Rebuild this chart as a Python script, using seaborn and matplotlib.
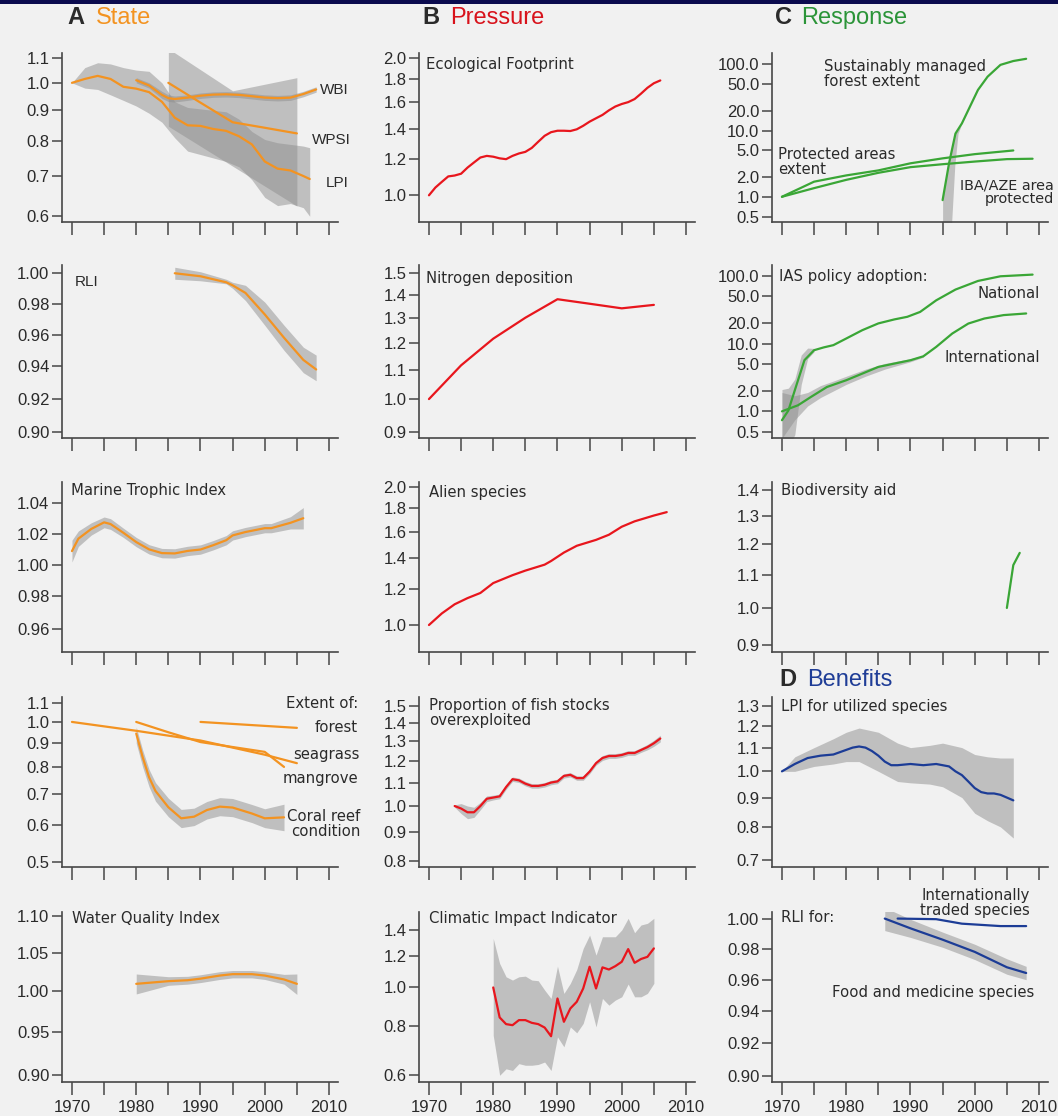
import matplotlib
matplotlib.use("Agg")
import matplotlib.pyplot as plt
import seaborn as sns
from matplotlib.ticker import FixedLocator, FixedFormatter, NullLocator
from matplotlib.patches import Rectangle

# ---------------- data ----------------
# A: State
lpi_years = [1970, 1972, 1974, 1976, 1978, 1980, 1982, 1984, 1986, 1988, 1990, 1992, 1994, 1996, 1998, 2000, 2002, 2004, 2006, 2007]
lpi_vals = [1.00, 1.015, 1.027, 1.015, 0.985, 0.978, 0.965, 0.93, 0.875, 0.85, 0.848, 0.838, 0.832, 0.815, 0.79, 0.74, 0.72, 0.715, 0.70, 0.692]
lpi_hi = [1.00, 1.06, 1.08, 1.075, 1.06, 1.05, 1.045, 1.0, 0.93, 0.91, 0.905, 0.90, 0.895, 0.87, 0.83, 0.805, 0.795, 0.79, 0.785, 0.78]
lpi_lo = [1.00, 0.98, 0.975, 0.955, 0.935, 0.915, 0.89, 0.86, 0.81, 0.77, 0.76, 0.75, 0.74, 0.725, 0.69, 0.645, 0.625, 0.63, 0.62, 0.60]

wbi_years = [1980, 1982, 1984, 1985, 1986, 1988, 1990, 1992, 1994, 1996, 1998, 2000, 2002, 2004, 2006, 2008]
wbi_vals = [1.01, 0.99, 0.955, 0.943, 0.94, 0.945, 0.952, 0.956, 0.957, 0.955, 0.95, 0.945, 0.943, 0.945, 0.958, 0.975]
wbi_hi = [1.02, 1.0, 0.968, 0.955, 0.951, 0.955, 0.962, 0.966, 0.967, 0.965, 0.96, 0.955, 0.953, 0.955, 0.968, 0.985]
wbi_lo = [1.0, 0.98, 0.942, 0.931, 0.929, 0.935, 0.942, 0.946, 0.947, 0.945, 0.94, 0.935, 0.933, 0.935, 0.948, 0.965]

wpsi_years = [1985, 1990, 1995, 2000, 2005]
wpsi_vals = [1.0, 0.927, 0.86, 0.842, 0.824]
wpsi_band_years = [1985, 1995, 2005]
wpsi_hi = [1.14, 0.97, 1.02]
wpsi_lo = [0.847, 0.727, 0.624]

rli_years = [1986, 1990, 1994, 1995, 1997, 2000, 2003, 2006, 2008]
rli_vals = [1.0, 0.998, 0.994, 0.992, 0.987, 0.973, 0.958, 0.944, 0.938]
rli_hi = [1.004, 1.001, 0.996, 0.994, 0.992, 0.981, 0.966, 0.952, 0.947]
rli_lo = [0.996, 0.995, 0.993, 0.99, 0.982, 0.966, 0.95, 0.936, 0.931]

mti_years = [1970, 1971, 1973, 1975, 1976, 1978, 1980, 1982, 1984, 1986, 1988, 1990, 1992, 1994, 1995, 1997, 2000, 2001, 2004, 2006]
mti_vals = [1.0087, 1.0167, 1.023, 1.0273, 1.0262, 1.0205, 1.0145, 1.0098, 1.0074, 1.0072, 1.0088, 1.0097, 1.0125, 1.0157, 1.0188, 1.021, 1.0235, 1.0235, 1.027, 1.030]
mti_hw = [0.007, 0.005, 0.004, 0.0035, 0.0035, 0.003, 0.003, 0.003, 0.003, 0.003, 0.003, 0.003, 0.003, 0.003, 0.003, 0.003, 0.003, 0.003, 0.004, 0.007]

forest_years = [1990, 2005]
forest_vals = [1.0, 0.971]
seagrass_years = [1970, 1980, 1990, 2000, 2005]
seagrass_vals = [1.0, 0.957, 0.912, 0.85, 0.815]
mangrove_years = [1980, 1985, 1990, 1995, 2000, 2003]
mangrove_vals = [1.0, 0.95, 0.905, 0.883, 0.862, 0.80]
coral_years = [1980, 1981, 1982, 1983, 1985, 1987, 1989, 1991, 1993, 1995, 1998, 2000, 2003]
coral_vals = [0.944, 0.84, 0.76, 0.71, 0.655, 0.62, 0.625, 0.646, 0.657, 0.654, 0.635, 0.62, 0.623]
coral_hi = [0.975, 0.87, 0.79, 0.74, 0.685, 0.648, 0.652, 0.674, 0.687, 0.684, 0.664, 0.65, 0.665]
coral_lo = [0.90, 0.80, 0.725, 0.675, 0.625, 0.592, 0.598, 0.618, 0.628, 0.625, 0.607, 0.592, 0.583]

wqi_years = [1980, 1985, 1988, 1990, 1993, 1995, 1998, 2000, 2003, 2005]
wqi_vals = [1.0094, 1.0128, 1.014, 1.016, 1.020, 1.0218, 1.0218, 1.020, 1.015, 1.0094]
wqi_hi = [1.022, 1.0185, 1.019, 1.021, 1.025, 1.0265, 1.0265, 1.025, 1.0215, 1.022]
wqi_lo = [0.9966, 1.0075, 1.009, 1.011, 1.015, 1.017, 1.017, 1.015, 1.009, 0.996]

# B: Pressure
ef_years = list(range(1970, 2007))
ef_vals = [1.00, 1.04, 1.07, 1.10, 1.105, 1.115, 1.15, 1.18, 1.21, 1.22, 1.215, 1.205, 1.20, 1.22, 1.235,
           1.245, 1.27, 1.31, 1.35, 1.375, 1.385, 1.385, 1.383, 1.395, 1.42, 1.45, 1.475, 1.50, 1.535,
           1.565, 1.585, 1.60, 1.625, 1.67, 1.72, 1.76, 1.785]

nit_years = [1970, 1975, 1980, 1985, 1990, 1995, 2000, 2005]
nit_vals = [1.0, 1.115, 1.215, 1.30, 1.38, 1.36, 1.34, 1.355]

alien_years = [1970, 1972, 1974, 1976, 1978, 1980, 1983, 1985, 1988, 1989, 1991, 1993, 1996, 1998, 2000, 2002, 2005, 2007]
alien_vals = [1.0, 1.06, 1.11, 1.145, 1.175, 1.235, 1.285, 1.315, 1.355, 1.38, 1.44, 1.49, 1.535, 1.575, 1.64, 1.685, 1.735, 1.765]

fish_years = list(range(1974, 2007))
fish_vals = [1.00, 0.99, 0.975, 0.975, 1.00, 1.03, 1.035, 1.04, 1.08, 1.115, 1.11, 1.095, 1.085, 1.085,
             1.09, 1.10, 1.105, 1.13, 1.135, 1.12, 1.12, 1.15, 1.19, 1.215, 1.225, 1.225, 1.23, 1.24,
             1.24, 1.255, 1.27, 1.29, 1.315]
fish_hw = [0.005, 0.02, 0.025, 0.02, 0.015, 0.012, 0.01, 0.01, 0.01, 0.01, 0.01, 0.01, 0.01, 0.01,
           0.01, 0.01, 0.01, 0.01, 0.01, 0.01, 0.01, 0.01, 0.01, 0.012, 0.012, 0.012, 0.012, 0.012,
           0.012, 0.012, 0.014, 0.016, 0.018]

cii_years = list(range(1980, 2006))
cii_vals = [1.0, 0.84, 0.808, 0.803, 0.827, 0.827, 0.814, 0.808, 0.792, 0.753, 0.938, 0.819, 0.885,
            0.92, 0.994, 1.128, 0.994, 1.124, 1.11, 1.132, 1.161, 1.25, 1.154, 1.18, 1.195, 1.255]
cii_hi = [1.33, 1.15, 1.064, 1.044, 1.064, 1.068, 1.044, 1.04, 0.985, 0.938, 1.132, 0.966, 1.024,
          1.11, 1.255, 1.356, 1.207, 1.343, 1.343, 1.343, 1.397, 1.495, 1.375, 1.438, 1.452, 1.495]
cii_lo = [0.757, 0.60, 0.623, 0.617, 0.642, 0.636, 0.636, 0.639, 0.648, 0.617, 0.75, 0.708, 0.795,
          0.768, 0.811, 0.92, 0.795, 0.938, 0.902, 0.929, 0.947, 1.02, 0.947, 0.947, 0.966, 1.024]

# C: Response
pa_years = [1970, 1975, 1980, 1985, 1990, 1995, 2000, 2006]
pa_vals = [1.0, 1.69, 2.1, 2.5, 3.2, 3.8, 4.4, 5.0]
iba_years = [1970, 1975, 1980, 1985, 1990, 1995, 2000, 2005, 2009]
iba_vals = [1.0, 1.35, 1.8, 2.3, 2.8, 3.1, 3.4, 3.7, 3.75]
smf_years = [1995, 1996, 1997, 1998, 1999, 2000.5, 2002, 2004, 2006, 2008]
smf_vals = [0.89, 3.2, 9.0, 12.8, 20.4, 41.0, 65.0, 98.0, 112.0, 121.0]
smf_band_y = [0.4, 0.9, 3.0, 9.0, 12.0]
smf_band_left = [1995.0, 1995.0, 1995.8, 1996.9, 1997.9]
smf_band_right = [1996.4, 1996.6, 1996.9, 1997.4, 1997.9]

nat_years = [1970, 1971, 1972, 1973.5, 1975, 1976.5, 1978, 1980, 1982.5, 1985, 1987.5, 1989.5, 1991.5, 1994, 1997, 2000.5, 2004, 2009]
nat_vals = [0.74, 1.03, 2.05, 5.7, 8.0, 8.8, 9.5, 11.9, 15.8, 19.9, 22.8, 24.9, 29.4, 43.6, 62.9, 84.3, 98.8, 104.6]
nat_band_years = [1970, 1971, 1972, 1973, 1974, 1975]
nat_band_lo = [0.3, 0.3, 0.45, 2.5, 6.0, 7.6]
nat_band_hi = [2.1, 2.2, 3.0, 6.8, 8.6, 8.5]

int_years = [1970, 1972.5, 1974.5, 1977, 1980, 1982.5, 1985, 1987.5, 1990, 1992, 1994, 1996.5, 1999, 2001.5, 2004.5, 2008]
int_vals = [1.0, 1.23, 1.63, 2.29, 2.88, 3.61, 4.53, 5.08, 5.69, 6.5, 8.95, 14.1, 19.8, 23.5, 26.4, 27.9]
int_band_years = [1970, 1972, 1974, 1976, 1978, 1980, 1983, 1986, 1990, 1992]
int_band_lo = [0.4, 0.75, 1.2, 1.6, 2.0, 2.5, 3.3, 4.2, 5.4, 6.3]
int_band_hi = [1.9, 1.7, 1.9, 2.4, 2.8, 3.3, 4.2, 5.1, 6.0, 6.7]

aid_years = [2005, 2006, 2007]
aid_vals = [1.0, 1.13, 1.17]

# D: Benefits
lpiu_years = [1970, 1972, 1974, 1976, 1978, 1980, 1981, 1982, 1983, 1984, 1985, 1986, 1987, 1988, 1990, 1992,
              1994, 1995, 1996, 1997, 1998, 1999, 2000, 2001, 2002, 2003, 2004, 2005, 2006]
lpiu_vals = [1.0, 1.03, 1.055, 1.065, 1.07, 1.09, 1.10, 1.105, 1.10, 1.085, 1.065, 1.04, 1.025, 1.025, 1.03,
             1.025, 1.03, 1.025, 1.02, 1.0, 0.985, 0.96, 0.935, 0.92, 0.915, 0.915, 0.91, 0.90, 0.89]
lpiu_band_years = [1970, 1972, 1975, 1978, 1980, 1982, 1985, 1988, 1990, 1993, 1995, 1998, 2000, 2002, 2004, 2006]
lpiu_lo = [1.0, 1.0, 1.02, 1.03, 1.04, 1.04, 1.0, 0.96, 0.955, 0.95, 0.94, 0.9, 0.845, 0.82, 0.80, 0.765]
lpiu_hi = [1.0, 1.06, 1.10, 1.14, 1.17, 1.19, 1.17, 1.12, 1.10, 1.11, 1.12, 1.10, 1.07, 1.06, 1.055, 1.055]

fm_years = [1986, 1990, 1995, 2000, 2005, 2008]
fm_vals = [1.0, 0.9935, 0.986, 0.978, 0.968, 0.9643]
fm_hi = [1.0074, 0.9995, 0.991, 0.983, 0.9735, 0.9686]
fm_lo = [0.992, 0.9875, 0.981, 0.973, 0.9635, 0.960]
its_years = [1988, 1994, 1998, 2004, 2008]
its_vals = [1.0, 0.9996, 0.9966, 0.995, 0.995]

# ---------------- styling ----------------
sns.set_theme(style="ticks")
plt.rcParams["font.family"] = ["DejaVu Sans"]
BG = "#f1f1f1"
INK = "#2a2a2a"
AXC = "#474747"
ORANGE = "#f39321"
RED = "#e8161d"
GREEN = "#3aa636"
BLUE = "#1c3c96"
BAND = "#8e8e8e"

W, H = 1058, 1116
fig = plt.figure(figsize=(W / 100, H / 100), dpi=100, facecolor=BG)
fig.patches.append(Rectangle((0, 1 - 4 / H), 1, 4 / H, transform=fig.transFigure,
                             facecolor="#0b0b4e", edgecolor="none", zorder=0))

COL_X = [62, 419, 772]
AX_W = 276
ROWS = [(53, 222), (265, 438), (482, 652), (697, 867), (912, 1082)]
XLIM = (1968.45, 2011.4)
YEAR_TICKS = [1970, 1975, 1980, 1985, 1990, 1995, 2000, 2005, 2010]
YEAR_LABELS = ["1970", "", "1980", "", "1990", "", "2000", "", "2010"]


def make_axes(col, row, ylim, yticks, ylabels, bottom=False):
    top, bot = ROWS[row]
    ax = fig.add_axes([COL_X[col] / W, 1 - bot / H, AX_W / W, (bot - top) / H])
    ax.set_facecolor(BG)
    ax.set_yscale("log")
    ax.set_xlim(*XLIM)
    ax.set_ylim(*ylim)
    ax.yaxis.set_major_locator(FixedLocator(yticks))
    ax.yaxis.set_major_formatter(FixedFormatter(ylabels))
    ax.yaxis.set_minor_locator(NullLocator())
    ax.xaxis.set_major_locator(FixedLocator(YEAR_TICKS))
    ax.xaxis.set_major_formatter(FixedFormatter(YEAR_LABELS if bottom else [""] * 9))
    ax.xaxis.set_minor_locator(NullLocator())
    for s in ("top", "right"):
        ax.spines[s].set_visible(False)
    for s in ("left", "bottom"):
        ax.spines[s].set_color(AXC)
        ax.spines[s].set_linewidth(1.2)
    ax.tick_params(axis="y", direction="out", length=7, width=1.1, color=AXC, pad=2,
                   labelsize=12, labelcolor=INK, labelfontfamily="Liberation Sans")
    ax.tick_params(axis="x", direction="out", length=9, width=1.1, color=AXC, pad=4,
                   labelsize=12, labelcolor=INK, labelfontfamily="Liberation Sans")
    return ax


def line(ax, x, y, color, lw=1.6):
    sns.lineplot(x=x, y=y, ax=ax, color=color, lw=lw, estimator=None, sort=True)
    ax.set_xlabel("")
    ax.set_ylabel("")


def band(ax, x, lo, hi, alpha=0.5):
    ax.fill_between(x, lo, hi, color=BAND, alpha=alpha, lw=0)


def ftext(x, y, s, ha="left", size=10.7, family="DejaVu Sans", **kw):
    fig.text(x / W, 1 - y / H, s, ha=ha, va="center", fontsize=size, color=INK,
             family=family, linespacing=0.95, **kw)


def fmt(vals, d):
    return [f"{v:.{d}f}" for v in vals]


# ---- column A: State ----
t = [0.6, 0.7, 0.8, 0.9, 1.0, 1.1]
ax = make_axes(0, 0, (0.587, 1.121), t, fmt(t, 1))
band(ax, lpi_years, lpi_lo, lpi_hi)
band(ax, wpsi_band_years, wpsi_lo, wpsi_hi)
band(ax, wbi_years, wbi_lo, wbi_hi)
line(ax, lpi_years, lpi_vals, ORANGE)
line(ax, wbi_years, wbi_vals, ORANGE)
line(ax, wpsi_years, wpsi_vals, ORANGE)

t = [0.90, 0.92, 0.94, 0.96, 0.98, 1.00]
ax = make_axes(0, 1, (0.8962, 1.0055), t, fmt(t, 2))
band(ax, rli_years, rli_lo, rli_hi)
line(ax, rli_years, rli_vals, ORANGE)

t = [0.96, 0.98, 1.00, 1.02, 1.04]
ax = make_axes(0, 2, (0.946, 1.054), t, fmt(t, 2))
band(ax, mti_years, [v - h for v, h in zip(mti_vals, mti_hw)], [v + h for v, h in zip(mti_vals, mti_hw)])
line(ax, mti_years, mti_vals, ORANGE)

t = [0.5, 0.6, 0.7, 0.8, 0.9, 1.0, 1.1]
ax = make_axes(0, 3, (0.487, 1.1316), t, fmt(t, 1))
band(ax, coral_years, coral_lo, coral_hi)
line(ax, forest_years, forest_vals, ORANGE)
line(ax, seagrass_years, seagrass_vals, ORANGE)
line(ax, mangrove_years, mangrove_vals, ORANGE)
line(ax, coral_years, coral_vals, ORANGE)

t = [0.90, 0.95, 1.00, 1.05, 1.10]
ax = make_axes(0, 4, (0.892, 1.105), t, fmt(t, 2), bottom=True)
band(ax, wqi_years, wqi_lo, wqi_hi)
line(ax, wqi_years, wqi_vals, ORANGE)

# ---- column B: Pressure ----
t = [1.0, 1.2, 1.4, 1.6, 1.8, 2.0]
ax = make_axes(1, 0, (0.874, 2.05), t, fmt(t, 1))
line(ax, ef_years, ef_vals, RED)

t = [0.9, 1.0, 1.1, 1.2, 1.3, 1.4, 1.5]
ax = make_axes(1, 1, (0.882, 1.541), t, fmt(t, 1))
line(ax, nit_years, nit_vals, RED)

t = [1.0, 1.2, 1.4, 1.6, 1.8, 2.0]
ax = make_axes(1, 2, (0.873, 2.054), t, fmt(t, 1))
line(ax, alien_years, alien_vals, RED)

t = [0.8, 0.9, 1.0, 1.1, 1.2, 1.3, 1.4, 1.5]
ax = make_axes(1, 3, (0.781, 1.556), t, fmt(t, 1))
band(ax, fish_years, [v - h for v, h in zip(fish_vals, fish_hw)], [v + h for v, h in zip(fish_vals, fish_hw)])
line(ax, fish_years, fish_vals, RED)

t = [0.6, 0.8, 1.0, 1.2, 1.4]
ax = make_axes(1, 4, (0.577, 1.551), t, fmt(t, 1), bottom=True)
band(ax, cii_years, cii_lo, cii_hi)
line(ax, cii_years, cii_vals, RED)

# ---- column C: Response ----
t = [0.5, 1.0, 2.0, 5.0, 10.0, 20.0, 50.0, 100.0]
ax = make_axes(2, 0, (0.416, 148), t, fmt(t, 1))
ax.fill_betweenx(smf_band_y, smf_band_left, smf_band_right, color=BAND, alpha=0.5, lw=0)
line(ax, pa_years, pa_vals, GREEN)
line(ax, iba_years, iba_vals, GREEN)
line(ax, smf_years, smf_vals, GREEN)

ax = make_axes(2, 1, (0.404, 145), t, fmt(t, 1))
band(ax, nat_band_years, nat_band_lo, nat_band_hi)
band(ax, int_band_years, int_band_lo, int_band_hi)
line(ax, nat_years, nat_vals, GREEN)
line(ax, int_years, int_vals, GREEN)

t = [0.9, 1.0, 1.1, 1.2, 1.3, 1.4]
ax = make_axes(2, 2, (0.882, 1.432), t, fmt(t, 1))
line(ax, aid_years, aid_vals, GREEN)

# ---- D: Benefits ----
t = [0.7, 0.8, 0.9, 1.0, 1.1, 1.2, 1.3]
ax = make_axes(2, 3, (0.681, 1.348), t, fmt(t, 1))
band(ax, lpiu_band_years, lpiu_lo, lpiu_hi)
line(ax, lpiu_years, lpiu_vals, BLUE)

t = [0.90, 0.92, 0.94, 0.96, 0.98, 1.00]
ax = make_axes(2, 4, (0.8966, 1.0044), t, fmt(t, 2), bottom=True)
band(ax, fm_years, fm_lo, fm_hi)
line(ax, fm_years, fm_vals, BLUE)
line(ax, its_years, its_vals, BLUE)

# ---------------- headings ----------------
def heading(x_letter, x_word, y, letter, word, color):
    fig.text(x_letter / W, 1 - y / H, letter, ha="left", va="center", fontsize=17,
             fontweight="bold", color="#2b2b2b", family="Liberation Sans")
    fig.text(x_word / W, 1 - y / H, word, ha="left", va="center", fontsize=17,
             color=color, family="Liberation Sans")


heading(67, 96, 18, "A", "State", ORANGE)
heading(422, 450, 18, "B", "Pressure", "#d8121b")
heading(775, 801, 18, "C", "Response", "#2b9438")
heading(779, 807, 680, "D", "Benefits", "#1f3d97")

# ---------------- panel annotations ----------------
ftext(320, 90, "WBI", size=11, family="Liberation Sans")
ftext(312, 140, "WPSI", size=11, family="Liberation Sans")
ftext(326, 183, "LPI", size=11, family="Liberation Sans")
ftext(75, 282, "RLI", size=11, family="Liberation Sans")
ftext(71, 490, "Marine Trophic Index")
ftext(358, 704, "Extent of:", ha="right")
ftext(358, 727, "forest", ha="right")
ftext(360, 755, "seagrass", ha="right")
ftext(358, 779, "mangrove", ha="right")
ftext(360, 824, "Coral reef\ncondition", ha="right", multialignment="right")
ftext(72, 919, "Water Quality Index")

ftext(426, 65, "Ecological Footprint")
ftext(426, 278, "Nitrogen deposition")
ftext(429, 492, "Alien species")
ftext(429, 713, "Proportion of fish stocks\noverexploited")
ftext(429, 919, "Climatic Impact Indicator")

ftext(824, 74, "Sustainably managed\nforest extent")
ftext(778, 162, "Protected areas\nextent")
ftext(1054, 192, "IBA/AZE area\nprotected", ha="right", multialignment="right", size=10.4)
ftext(779, 277, "IAS policy adoption:")
ftext(1040, 293, "National", ha="right")
ftext(1040, 358, "International", ha="right")
ftext(781, 490, "Biodiversity aid")
ftext(781, 706, "LPI for utilized species")
ftext(781, 918, "RLI for:")
ftext(1030, 903, "Internationally\ntraded species", ha="right", multialignment="right")
ftext(1034, 993, "Food and medicine species", ha="right")

fig.savefig("out.png", dpi=100, facecolor=BG)
